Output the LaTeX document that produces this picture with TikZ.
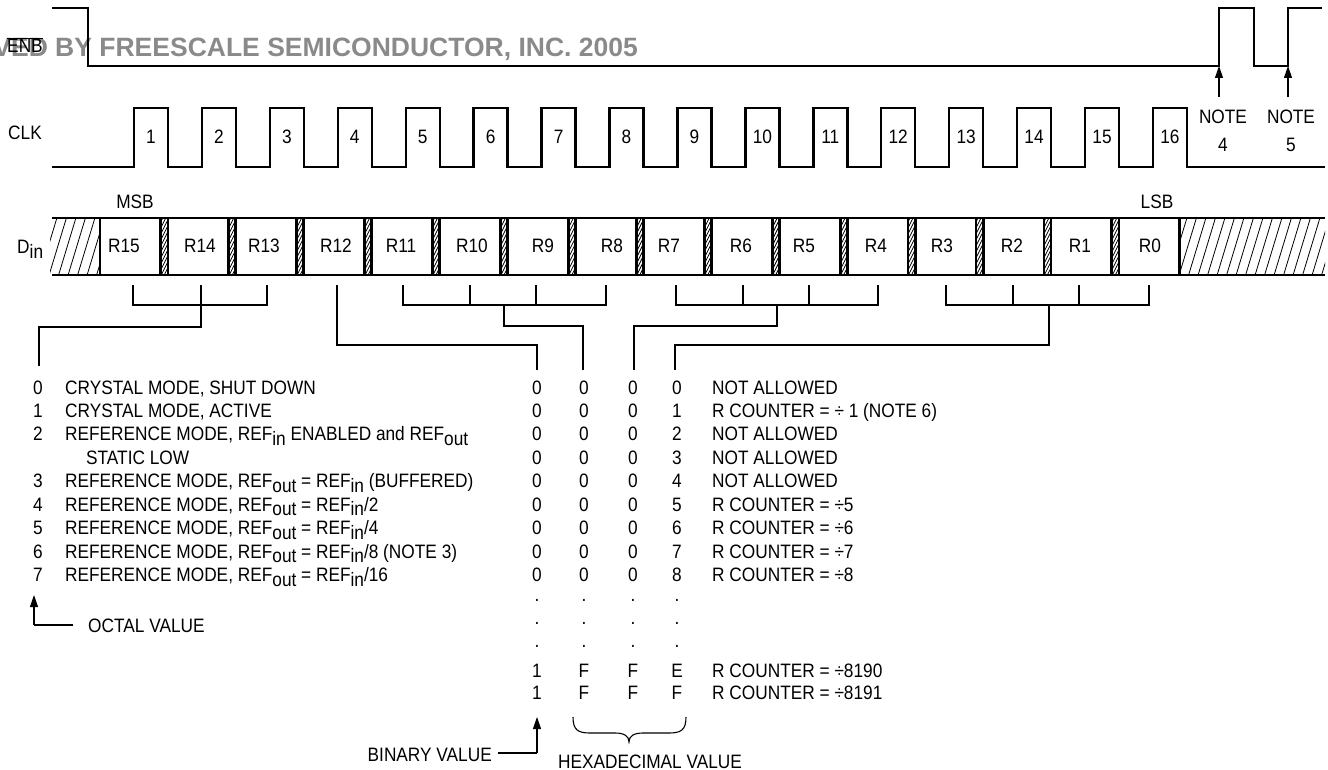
\documentclass[tikz,border=0pt]{standalone}
\usepackage{fontspec}
\setmainfont{Liberation Sans}[FakeStretch=0.89]
\newfontfamily\wmfont{Liberation Sans}
\usetikzlibrary{arrows.meta}
\newcommand\lo[1]{\raisebox{-4.5pt}{#1}}
\definecolor{wmgray}{HTML}{8A8A8A}
\begin{document}
\begin{tikzpicture}[x=1pt,y=-1pt,
  every node/.style={inner sep=0pt, font=\fontsize{19.4}{22}\selectfont},
  wave/.style={line width=2.4pt},
  bus/.style={line width=2.8pt},
  hatch/.style={line width=0.8pt},
  br/.style={line width=1.1pt},
  arr/.style={line width=1.1pt, -{Triangle[length=12pt,width=8pt]}},
  tl/.style={anchor=base west},
  tc/.style={anchor=base}]
\useasboundingbox (0,0) rectangle (1328,770);

% watermark
\node[anchor=base west, text=wmgray, font=\wmfont\bfseries\fontsize{26.5}{30}\selectfont] (wm) at (-6.8,57) {VED BY FREESCALE SEMICONDUCTOR, INC. 2005};

% ENB
\node (enb) at (25,45) {$\overline{\mbox{ENB}}$};
\coordinate (e4) at (1219,66);
\coordinate (e5) at (1288,66);
\draw[wave] (52,8) -- (88,8) -- (88,66) -- (e4) -- (1219,8) -- (1254,8) -- (1254,66) -- (e5) -- (1288,8) -- (1322,8);

% CLK
\node (clk) at (25,133) {CLK};
\draw[wave] (52,167) foreach \k in {0,...,15} { -- ({134+67.93*\k},167) -- ({134+67.93*\k},108) -- ({168+67.93*\k},108) -- ({168+67.93*\k},167) } -- (1325,167);
\foreach \k in {1,...,16} \node[tc] (p\k) at ({151+67.93*(\k-1)},144) {\k};

% notes
\node[tc] (n4) at (1223,124) {NOTE};
\node[tc] (n4b) at (1223,152) {4};
\node[tc] (n5) at (1291,124) {NOTE};
\node[tc] (n5b) at (1291,152) {5};
\draw[arr] (1219,97) -- (e4);
\draw[arr] (1288,97) -- (e5);

% Din bus
\node[tc] (msb) at (135,209) {MSB};
\node[tc] (lsb) at (1157,209) {LSB};
\node[anchor=base west] (din) at (17,254) {D\lo{in}};

\begin{scope}
  \clip (50,218) rectangle (100,275);
  \foreach \x in {20,29.5,...,110} \draw[hatch] (\x,277) -- (\x+18.5,216);
\end{scope}
\begin{scope}
  \clip (1179,218) rectangle (1325,275);
  \foreach \x in {1150,1159.5,...,1335} \draw[hatch] (\x,277) -- (\x+18.5,216);
\end{scope}
\foreach \k in {0,...,14} {
  \pgfmathsetmacro\R{160.8+67.93*\k}
  \pgfmathsetmacro\N{167.93+67.93*\k}
  \begin{scope}
    \clip (\R,218) rectangle (\N,275);
    \foreach \yy in {220,226,...,296} \draw[hatch] (\R-2,\yy) -- (\R+10,\yy-24);
  \end{scope}
}
\draw[bus] (52,218) -- (1325,218);
\draw[bus] (52,275) -- (1325,275);
\foreach \k in {0,...,15} {
  \pgfmathsetmacro\L{100+67.93*\k}
  \pgfmathsetmacro\R{\L+60.8}
  \draw[bus] (\L,218) -- (\L,275) (\R,218) -- (\R,275);
}
\foreach \lab/\cx in {15/124,14/200,13/264,12/336,11/401,10/472,9/543,8/612,7/669,6/741,5/804,4/876,3/942,2/1012,1/1080,0/1150}
  \node[tc] (r\lab) at (\cx,252) {R\lab};

% column heads
\coordinate (oct) at (39,366);
\coordinate (c1) at (537,370);
\coordinate (c2) at (583,370);
\coordinate (c3) at (634,370);
\coordinate (c4) at (675,370);

% brackets
\draw[br] (133,285) -- (133,305) -- (267,305) -- (267,285) (201,285) -- (201,327) -- (39,327) -- (oct);
\draw[br] (337,285) -- (337,345) -- (537,345) -- (c1);
\draw[br] (403,285) -- (403,305) -- (606,305) -- (606,285) (470,285) -- (470,305) (536,285) -- (536,305) (504,305) -- (504,326) -- (583,326) -- (c2);
\draw[br] (676,285) -- (676,305) -- (878,305) -- (878,285) (743,285) -- (743,305) (809,285) -- (809,305) (777,305) -- (777,326) -- (634,326) -- (c3);
\draw[br] (946,285) -- (946,305) -- (1149,305) -- (1149,285) (1013,285) -- (1013,305) (1079,285) -- (1079,305) (1049,305) -- (1049,345) -- (675,345) -- (c4);

% left table
\foreach \d/\t [count=\i from 0] in {
  0/{CRYSTAL MODE, SHUT DOWN},
  1/{CRYSTAL MODE, ACTIVE},
  2/{REFERENCE MODE, REF\lo{in} ENABLED and REF\lo{out}},
  /{},
  3/{REFERENCE MODE, REF\lo{out} = REF\lo{in} (BUFFERED)},
  4/{REFERENCE MODE, REF\lo{out} = REF\lo{in}/2},
  5/{REFERENCE MODE, REF\lo{out} = REF\lo{in}/4},
  6/{REFERENCE MODE, REF\lo{out} = REF\lo{in}/8 (NOTE 3)},
  7/{REFERENCE MODE, REF\lo{out} = REF\lo{in}/16}} {
  \node[tc] (ld\i) at (38,{394+23.45*\i}) {\d};
  \node[tl] (lt\i) at (65,{394+23.45*\i}) {\t};
}
\node[tl] (static) at (86,{394+23.45*3}) {STATIC LOW};

% right table
\foreach \d/\t [count=\i from 0] in {
  0/{NOT ALLOWED},
  1/{R COUNTER = ÷ 1 (NOTE 6)},
  2/{NOT ALLOWED},
  3/{NOT ALLOWED},
  4/{NOT ALLOWED},
  5/{R COUNTER = ÷5},
  6/{R COUNTER = ÷6},
  7/{R COUNTER = ÷7},
  8/{R COUNTER = ÷8}} {
  \node[tc] (a\i) at (537,{394+23.45*\i}) {0};
  \node[tc] (b\i) at (584,{394+23.45*\i}) {0};
  \node[tc] (c\i) at (633,{394+23.45*\i}) {0};
  \node[tc] (d\i) at (677,{394+23.45*\i}) {\d};
  \node[tl] (rt\i) at (712,{394+23.45*\i}) {\t};
}
\foreach \yy [count=\j] in {601,624,647} {
  \node[tc] (da\j) at (537,\yy) {.};
  \node[tc] (db\j) at (584,\yy) {.};
  \node[tc] (dc\j) at (633,\yy) {.};
  \node[tc] (dd\j) at (677,\yy) {.};
}
\node[tc] (ea) at (537,677) {1};
\node[tc] (eb) at (584,677) {F};
\node[tc] (ec) at (633,677) {F};
\node[tc] (ed) at (677,677) {E};
\node[tl] (et) at (712,677) {R COUNTER = ÷8190};
\node[tc] (fa) at (537,699) {1};
\node[tc] (fb) at (584,699) {F};
\node[tc] (fc) at (633,699) {F};
\node[tc] (fd) at (677,699) {F};
\node[tl] (ft) at (712,699) {R COUNTER = ÷8191};

% octal value
\node[tl] (octv) at (88,632) {OCTAL VALUE};
\coordinate (octc) at (34,625);
\draw[br] (73,625) -- (octc);
\draw[arr] (octc) -- (34,595);

% binary value
\node[anchor=base east] (binv) at (492,761) {BINARY VALUE};
\coordinate (binc) at (537,753);
\draw[br] (498,753) -- (binc);
\draw[arr] (binc) -- (537,717);

% hex brace
\draw[br] (573,717) .. controls (573,730) and (578,733) .. (590,733) -- (615,733) .. controls (624,733) and (629,736) .. (629,742) .. controls (629,736) and (634,733) .. (643,733) -- (669,733) .. controls (681,733) and (686,730) .. (686,717);
\node[tc] (hexv) at (650,768.5) {HEXADECIMAL VALUE};
\end{tikzpicture}
\end{document}
